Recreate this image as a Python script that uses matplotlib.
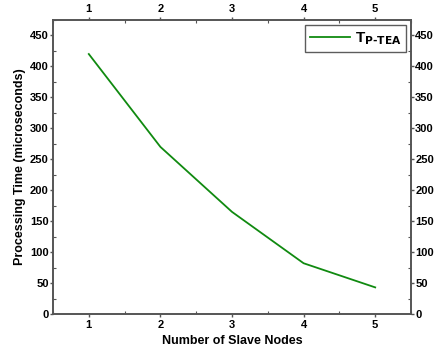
import matplotlib
matplotlib.use("Agg")
import matplotlib.pyplot as plt
from matplotlib.ticker import MultipleLocator

nodes = [1, 2, 3, 4, 5]
time_us = [420, 270, 165, 82, 43]
y_ticks = [0, 50, 100, 150, 200, 250, 300, 350, 400, 450]

plt.rcParams['font.family'] = ['Liberation Sans', 'DejaVu Sans']
plt.rcParams['font.weight'] = 'bold'

fig = plt.figure(figsize=(4.35, 3.49), dpi=100)
ax = fig.add_axes([53 / 435, 35 / 349, 358 / 435, 294 / 349])

ax.plot(nodes, time_us, color='#108a10', lw=1.3, label=r'T$_{\mathbf{P\text{-}TEA}}$')
ax.set_xlim(0.5, 5.5)
ax.set_ylim(0, 475)
ax.set_xticks(nodes)
ax.set_yticks(y_ticks)
ax.xaxis.set_minor_locator(MultipleLocator(0.5))
ax.yaxis.set_minor_locator(MultipleLocator(25))

ax.tick_params(which='both', top=True, right=True,
               labeltop=True, labelright=True, labelsize=8, color='#555555')
ax.tick_params(which='major', direction='out', length=2.5, width=1, pad=1.5)
ax.tick_params(which='minor', direction='in', length=2, width=0.8)
ax.tick_params(axis='y', which='major', length=2, pad=1)
for lab in ax.get_xticklabels() + ax.get_yticklabels():
    lab.set_fontweight('bold')
for s in ax.spines.values():
    s.set_color('#555555')
    s.set_linewidth(1.4)

ax.set_xlabel('Number of Slave Nodes', fontsize=9, fontweight='bold', labelpad=4)
ax.set_ylabel('Processing Time (microseconds)', fontsize=9, fontweight='bold', labelpad=3)

leg = ax.legend(loc='upper right', fontsize=11, frameon=True, fancybox=False,
                edgecolor='#333333', handlelength=2.6, handletextpad=0.3,
                borderaxespad=0.3, borderpad=0.35)
leg.get_frame().set_linewidth(1.0)
for t in leg.get_texts():
    t.set_fontweight('bold')

fig.savefig('out.png', dpi=100)
